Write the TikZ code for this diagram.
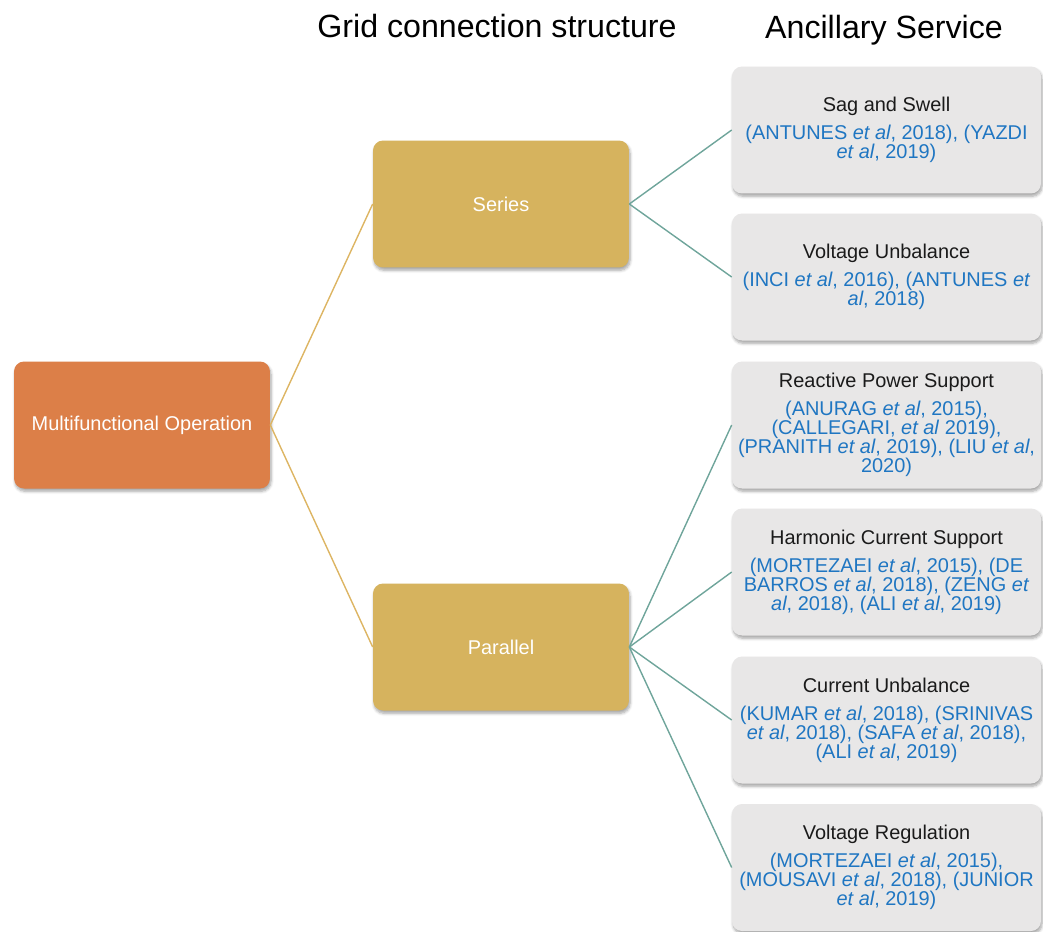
\documentclass[tikz,border=0pt]{standalone}
\usepackage{fontspec}
\setmainfont{Liberation Sans}
\usetikzlibrary{shadows.blur}

\definecolor{rootfill}{HTML}{DC7F48}
\definecolor{midfill}{HTML}{D6B35E}
\definecolor{leaffill}{HTML}{E8E7E7}
\definecolor{goldline}{HTML}{DDB563}
\definecolor{tealline}{HTML}{6FA59B}
\definecolor{citeblue}{HTML}{1F76C2}
\definecolor{titleink}{HTML}{1A1A1A}

\newcommand{\etal}{\textit{et al}}
\newcommand{\boxfont}{\fontsize{11.35}{10.8}\selectfont}
\newcommand{\headfont}{\fontsize{18.3}{21}\selectfont}

\tikzset{
  x=0.02cm, y=-0.02cm,
  shadowed/.style={blur shadow={shadow xshift=0.6pt, shadow yshift=-1.6pt,
      shadow blur radius=1.6pt, shadow blur steps=6, shadow opacity=35}},
  colbox/.style={rectangle, rounded corners=0.2cm, minimum width=5.12cm,
      minimum height=2.54cm, inner sep=2pt, align=center, text=white,
      font=\boxfont, shadowed},
  rootbox/.style={colbox, fill=rootfill},
  midbox/.style={colbox, fill=midfill},
  leafbox/.style={rectangle, rounded corners=0.2cm, minimum width=6.18cm,
      minimum height=2.54cm, inner sep=2pt, align=center, fill=leaffill,
      text=citeblue, font=\boxfont, shadowed},
  header/.style={anchor=base, font=\headfont, text=black},
  rootlink/.style={draw=goldline, line width=0.8pt},
  leaflink/.style={draw=tealline, line width=0.8pt},
}

\begin{document}
\begin{tikzpicture}
\useasboundingbox (0,0) rectangle (1043,931);
\clip (0,0) rectangle (1043,931);

% column headings
\node[header] (hgrid) at (497,37) {Grid connection structure};
\node[header] (hanc) at (884,38) {Ancillary Service};

% root and connection structures
\node[rootbox] (root) at (142,425) {Multifunctional Operation};
\node[midbox] (series) at (501,204) {Series};
\node[midbox] (parallel) at (501,647) {Parallel};

% ancillary services
\node[leafbox] (sag) at (886.5,130) {\textcolor{titleink}{Sag and Swell}\\[5.2pt]
  (ANTUNES \etal, 2018), (YAZDI\\ \etal, 2019)};
\node[leafbox] (vunb) at (886.5,277) {\textcolor{titleink}{Voltage Unbalance}\\[5.2pt]
  (INCI \etal, 2016), (ANTUNES \textit{et}\\ \textit{al}, 2018)};
\node[leafbox] (rps) at (886.5,425) {\textcolor{titleink}{Reactive Power Support}\\[5.2pt]
  (ANURAG \etal, 2015),\\ (CALLEGARI, \etal\ 2019),\\
  (PRANITH \etal, 2019), (LIU \etal,\\ 2020)};
\node[leafbox] (hcs) at (886.5,572) {\textcolor{titleink}{Harmonic Current Support}\\[5.2pt]
  (MORTEZAEI \etal, 2015), (DE\\ BARROS \etal, 2018), (ZENG \textit{et}\\
  \textit{al}, 2018), (ALI \etal, 2019)};
\node[leafbox] (cunb) at (886.5,720) {\textcolor{titleink}{Current Unbalance}\\[5.2pt]
  (KUMAR \etal, 2018), (SRINIVAS\\ \etal, 2018), (SAFA \etal, 2018),\\
  (ALI \etal, 2019)};
\node[leafbox] (vreg) at (886.5,867.5) {\textcolor{titleink}{Voltage Regulation}\\[5.2pt]
  (MORTEZAEI \etal, 2015),\\ (MOUSAVI \etal, 2018), (JUNIOR\\ \etal, 2019)};

% connectors
\draw[rootlink] (root.east) -- (series.west);
\draw[rootlink] (root.east) -- (parallel.west);
\draw[leaflink] (series.east) -- (sag.west);
\draw[leaflink] (series.east) -- (vunb.west);
\draw[leaflink] (parallel.east) -- (rps.west);
\draw[leaflink] (parallel.east) -- (hcs.west);
\draw[leaflink] (parallel.east) -- (cunb.west);
\draw[leaflink] (parallel.east) -- (vreg.west);
\end{tikzpicture}
\end{document}
